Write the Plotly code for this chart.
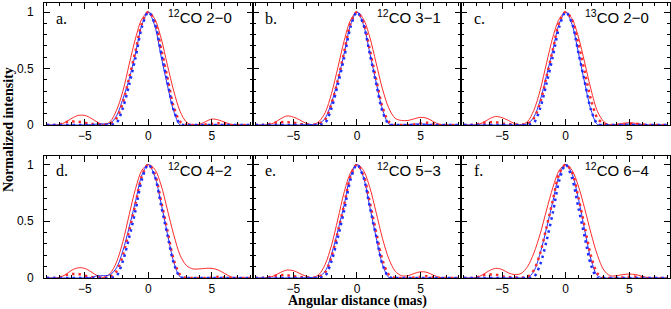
import plotly.graph_objects as go

# ---------------- data ----------------
X = [-8, -7.5, -7, -6.5, -6, -5.5, -5, -4.5, -4, -3.5, -3, -2.5, -2, -1.5, -1, -0.5,
     0, 0.5, 1, 1.5, 2, 2.5, 3, 3.5, 4, 4.5, 5, 5.5, 6, 6.5, 7, 7.5, 8]

PANEL_LETTERS = ["a.", "b.", "c.", "d.", "e.", "f."]
LINE_LABELS = ["<sup>12</sup>CO 2−0", "<sup>12</sup>CO 3−1", "<sup>13</sup>CO 2−0",
               "<sup>12</sup>CO 4−2", "<sup>12</sup>CO 5−3", "<sup>12</sup>CO 6−4"]
X_TICKS = [-5, 0, 5]
X_TICK_TEXT = ["−5", "0", "5"]
Y_TICKS = [0, 0.5, 1]
Y_TICK_TEXT = ["0", "0.5", "1"]

# red solid (wide), blue solid, red dotted, blue dotted
a_red = [0, 0, 0.003, 0.025, 0.06, 0.085, 0.085, 0.06, 0.025, 0.003, 0.03, 0.13, 0.30, 0.54, 0.77, 0.94,
         1.0, 0.94, 0.77, 0.53, 0.30, 0.12, 0.025, 0.0, 0.005, 0.03, 0.053, 0.045, 0.025, 0.005, 0, 0, 0]
a_blue = [0, 0, 0, 0, 0, 0, 0, 0.003, 0.008, 0.01, 0.015, 0.08, 0.23, 0.41, 0.64, 0.89,
          1.0, 0.88, 0.61, 0.35, 0.12, 0.0, 0, 0, 0, 0, 0, 0, 0, 0, 0, 0, 0]
a_red_dot = [0, 0, 0.005, 0.025, 0.03, 0.03, 0.02, 0.01, 0.01, 0.005, 0.01, 0.06, 0.2, 0.42, 0.66, 0.9,
             1.0, 0.92, 0.68, 0.42, 0.16, 0.03, 0, 0, 0, 0.005, 0.01, 0.015, 0.01, 0, 0, 0, 0]
a_blue_dot = [0, 0, 0, 0, 0, 0, 0, 0, 0, 0, 0.0, 0.02, 0.15, 0.36, 0.6, 0.87,
              1.0, 0.9, 0.64, 0.38, 0.13, 0.01, 0, 0, 0, 0, 0, 0, 0, 0, 0, 0, 0]

b_red = [0, 0, 0.002, 0.02, 0.055, 0.08, 0.07, 0.045, 0.015, 0.002, 0.03, 0.11, 0.28, 0.51, 0.75, 0.93,
         1.0, 0.94, 0.78, 0.55, 0.32, 0.15, 0.06, 0.04, 0.04, 0.055, 0.068, 0.06, 0.03, 0.005, 0, 0, 0]
b_blue = [0, 0, 0, 0, 0, 0, 0, 0, 0.003, 0.005, 0.01, 0.06, 0.2, 0.4, 0.64, 0.89,
          1.0, 0.89, 0.64, 0.38, 0.14, 0.01, 0, 0, 0.003, 0.008, 0.01, 0.005, 0, 0, 0, 0, 0]
b_red_dot = [0, 0, 0.005, 0.02, 0.025, 0.025, 0.02, 0.01, 0.005, 0.003, 0.01, 0.05, 0.19, 0.4, 0.65, 0.9,
             1.0, 0.91, 0.67, 0.41, 0.16, 0.03, 0, 0, 0, 0.005, 0.015, 0.02, 0.01, 0, 0, 0, 0]
b_blue_dot = [0, 0, 0, 0, 0, 0, 0, 0, 0, 0, 0.0, 0.02, 0.15, 0.36, 0.6, 0.87,
              1.0, 0.89, 0.63, 0.37, 0.12, 0.01, 0, 0, 0, 0, 0, 0, 0, 0, 0, 0, 0]

c_red = [0, 0, 0.002, 0.02, 0.055, 0.075, 0.065, 0.04, 0.012, 0.002, 0.03, 0.13, 0.31, 0.55, 0.78, 0.94,
         1.0, 0.94, 0.78, 0.55, 0.31, 0.12, 0.03, 0.0, 0.005, 0.015, 0.02, 0.015, 0.005, 0, 0, 0, 0]
c_blue = [0, 0, 0, 0, 0, 0, 0, 0, 0, 0.002, 0.01, 0.07, 0.22, 0.44, 0.67, 0.9,
          1.0, 0.89, 0.64, 0.37, 0.13, 0.005, 0, 0, 0, 0.005, 0.008, 0.004, 0, 0, 0, 0, 0]
c_red_dot = [0, 0, 0.005, 0.02, 0.025, 0.025, 0.015, 0.008, 0.004, 0.003, 0.01, 0.06, 0.2, 0.43, 0.67, 0.91,
             1.0, 0.93, 0.72, 0.47, 0.22, 0.06, 0.01, 0, 0, 0.005, 0.01, 0.012, 0.005, 0, 0, 0, 0]
c_blue_dot = [0, 0, 0, 0, 0, 0, 0, 0, 0, 0, 0.0, 0.02, 0.15, 0.37, 0.61, 0.87,
              1.0, 0.9, 0.64, 0.38, 0.13, 0.01, 0, 0, 0, 0, 0, 0, 0, 0, 0, 0, 0]

d_red = [0, 0, 0.005, 0.03, 0.07, 0.09, 0.085, 0.055, 0.02, 0.005, 0.04, 0.14, 0.32, 0.56, 0.79, 0.95,
         1.0, 0.96, 0.82, 0.6, 0.38, 0.2, 0.11, 0.08, 0.08, 0.085, 0.085, 0.07, 0.04, 0.01, 0, 0, 0]
d_blue = [0, 0, 0, 0, 0, 0, 0, 0.005, 0.02, 0.02, 0.03, 0.09, 0.24, 0.45, 0.68, 0.91,
          1.0, 0.9, 0.66, 0.39, 0.14, 0.01, 0, 0, 0, 0, 0, 0, 0, 0, 0, 0, 0]
d_red_dot = [0, 0, 0.005, 0.025, 0.035, 0.035, 0.02, 0.01, 0.005, 0.003, 0.01, 0.06, 0.2, 0.42, 0.66, 0.9,
             1.0, 0.92, 0.68, 0.42, 0.16, 0.03, 0, 0, 0, 0, 0.005, 0.01, 0.005, 0, 0, 0, 0]
d_blue_dot = [0, 0, 0, 0, 0, 0, 0, 0, 0, 0, 0.0, 0.02, 0.15, 0.36, 0.6, 0.87,
              1.0, 0.9, 0.64, 0.38, 0.13, 0.01, 0, 0, 0, 0, 0, 0, 0, 0, 0, 0, 0]

e_red = [0, 0, 0.003, 0.02, 0.05, 0.07, 0.065, 0.04, 0.015, 0.003, 0.03, 0.12, 0.29, 0.52, 0.76, 0.93,
         1.0, 0.95, 0.8, 0.58, 0.35, 0.17, 0.06, 0.02, 0.02, 0.04, 0.055, 0.05, 0.025, 0.005, 0, 0, 0]
e_blue = [0, 0, 0, 0, 0, 0, 0, 0, 0.003, 0.005, 0.01, 0.06, 0.21, 0.42, 0.65, 0.9,
          1.0, 0.89, 0.63, 0.36, 0.12, 0.005, 0, 0, 0, 0, 0, 0, 0, 0, 0, 0, 0]
e_red_dot = [0, 0, 0.005, 0.02, 0.025, 0.025, 0.015, 0.01, 0.005, 0.003, 0.01, 0.05, 0.19, 0.41, 0.65, 0.9,
             1.0, 0.91, 0.67, 0.41, 0.16, 0.03, 0, 0, 0, 0.005, 0.01, 0.015, 0.005, 0, 0, 0, 0]
e_blue_dot = [0, 0, 0, 0, 0, 0, 0, 0, 0, 0, 0.0, 0.02, 0.15, 0.36, 0.6, 0.87,
              1.0, 0.89, 0.63, 0.37, 0.12, 0.01, 0, 0, 0, 0, 0, 0, 0, 0, 0, 0, 0]

f_red = [0, 0, 0.005, 0.03, 0.065, 0.085, 0.075, 0.045, 0.03, 0.04, 0.1, 0.22, 0.39, 0.6, 0.8, 0.95,
         1.0, 0.95, 0.81, 0.61, 0.39, 0.2, 0.07, 0.02, 0.02, 0.03, 0.035, 0.03, 0.015, 0.003, 0, 0, 0]
f_blue = [0, 0, 0, 0, 0, 0, 0, 0, 0, 0, 0.0, 0.06, 0.22, 0.44, 0.68, 0.91,
          1.0, 0.92, 0.7, 0.42, 0.16, 0.02, 0, 0, 0, 0, 0, 0, 0, 0, 0, 0, 0]
f_red_dot = [0, 0, 0.005, 0.025, 0.03, 0.03, 0.015, 0.01, 0.005, 0.003, 0.01, 0.07, 0.22, 0.45, 0.69, 0.92,
             1.0, 0.93, 0.71, 0.45, 0.19, 0.04, 0, 0, 0, 0.005, 0.01, 0.012, 0.005, 0, 0, 0, 0]
f_blue_dot = [0, 0, 0, 0, 0, 0, 0, 0, 0, 0, 0.0, 0.01, 0.12, 0.33, 0.58, 0.86,
              1.0, 0.88, 0.62, 0.36, 0.11, 0.0, 0, 0, 0, 0, 0, 0, 0, 0, 0, 0, 0]

PANELS = [
    (a_red, a_blue, a_red_dot, a_blue_dot),
    (b_red, b_blue, b_red_dot, b_blue_dot),
    (c_red, c_blue, c_red_dot, c_blue_dot),
    (d_red, d_blue, d_red_dot, d_blue_dot),
    (e_red, e_blue, e_red_dot, e_blue_dot),
    (f_red, f_blue, f_red_dot, f_blue_dot),
]

RED = "#ff2a2a"
BLUE = "#1f2fff"

# ---------------- figure ----------------
W, H = 671, 309
ML, MR, MT, MB = 44, 1, 3, 31
col_dom = [[0, 1 / 3], [1 / 3, 2 / 3], [2 / 3, 1]]
ph = H - MT - MB
row_dom = [[(278 - 125) / ph, 1.0], [0.0, (278 - 155.5) / ph]]

fig = go.Figure()
layout = dict(
    width=W, height=H, margin=dict(l=ML, r=MR, t=MT, b=MB),
    paper_bgcolor="white", plot_bgcolor="white", showlegend=False,
    font=dict(family="Liberation Sans", size=12, color="black"),
)

for i, (red, blue, red_dot, blue_dot) in enumerate(PANELS):
    r, c = divmod(i, 3)
    k = "" if i == 0 else str(i + 1)
    xa, ya = "x" + k, "y" + k
    common = dict(smoothing=0.9, shape="spline")
    fig.add_trace(go.Scatter(x=X, y=red, mode="lines", xaxis=xa, yaxis=ya,
                             line=dict(color=RED, width=1, **common)))
    fig.add_trace(go.Scatter(x=X, y=blue, mode="lines", xaxis=xa, yaxis=ya,
                             line=dict(color=BLUE, width=1, **common)))
    fig.add_trace(go.Scatter(x=X, y=red_dot, mode="lines", xaxis=xa, yaxis=ya,
                             line=dict(color=RED, width=2.5, dash="2.5px,4px", **common)))
    fig.add_trace(go.Scatter(x=X, y=blue_dot, mode="lines", xaxis=xa, yaxis=ya,
                             line=dict(color=BLUE, width=2.5, dash="2.5px,4px", **common)))

    layout["xaxis" + k] = dict(
        domain=col_dom[c], anchor=ya, range=[-8.2, 8.2],
        tickmode="array", tickvals=X_TICKS, ticktext=X_TICK_TEXT,
        ticks="inside", ticklen=6, tickwidth=1, tickcolor="black",
        minor=dict(ticks="inside", ticklen=3, dtick=1, tick0=0, tickcolor="black", tickwidth=1),
        showline=True, linecolor="black", linewidth=1, mirror="ticks",
        showgrid=False, zeroline=False, tickfont=dict(size=12),
    )
    layout["yaxis" + k] = dict(
        domain=row_dom[r], anchor=xa, range=[0, 1.08],
        tickmode="array", tickvals=Y_TICKS, ticktext=Y_TICK_TEXT,
        showticklabels=(c == 0), ticklabelstandoff=7,
        ticks="inside", ticklen=6, tickwidth=1, tickcolor="black",
        minor=dict(ticks="inside", ticklen=3, dtick=0.1, tick0=0, tickcolor="black", tickwidth=1),
        showline=True, linecolor="black", linewidth=1, mirror="ticks",
        showgrid=False, zeroline=False, tickfont=dict(size=12),
    )

annotations = []
for i in range(6):
    r, c = divmod(i, 3)
    k = "" if i == 0 else str(i + 1)
    annotations.append(dict(xref="x" + k + " domain", yref="y" + k + " domain",
                            x=0.05, y=0.96, xanchor="left", yanchor="top", showarrow=False,
                            text=PANEL_LETTERS[i],
                            font=dict(family="Liberation Serif", size=16, color="black")))
    annotations.append(dict(xref="x" + k + " domain", yref="y" + k + " domain",
                            x=0.91, y=0.98, xanchor="right", yanchor="top", showarrow=False,
                            text=LINE_LABELS[i],
                            font=dict(family="Liberation Sans", size=15, color="black")))

annotations.append(dict(xref="paper", yref="paper", x=(8 - ML) / (W - ML - MR),
                        y=(278 - 130) / ph, xanchor="center", yanchor="middle",
                        textangle=-90, showarrow=False, text="<b>Normalized intensity</b>",
                        font=dict(family="Liberation Serif", size=14, color="black")))
annotations.append(dict(xref="paper", yref="paper", x=(357 - ML) / (W - ML - MR),
                        y=(278 - 301) / ph, xanchor="center", yanchor="middle",
                        showarrow=False, text="<b>Angular distance (mas)</b>",
                        font=dict(family="Liberation Serif", size=14, color="black")))
layout["annotations"] = annotations
fig.update_layout(**layout)
fig.write_html("out.html", config={"displayModeBar": False},
               post_script="document.body.style.margin='0';document.body.style.padding='0';")
